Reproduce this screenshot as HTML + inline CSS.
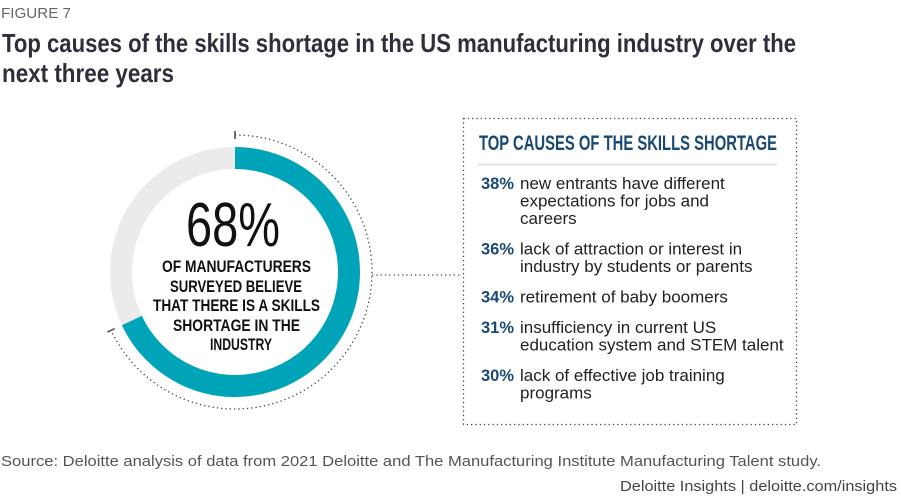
<!DOCTYPE html>
<html><head><meta charset="utf-8">
<style>
html,body{margin:0;padding:0;background:#fff;}
svg{display:block;}
.n{font-family:"Liberation Sans Narrow","Liberation Sans",sans-serif;}
.s{font-family:"Liberation Sans",sans-serif;}
</style></head>
<body>
<svg id="chart" width="901" height="501" viewBox="0 0 901 501" xmlns="http://www.w3.org/2000/svg">
<text class="s" x="1" y="18" font-size="15" fill="#666" textLength="70" lengthAdjust="spacingAndGlyphs">FIGURE 7</text>
<text class="n" x="2" y="52" font-size="26" font-weight="bold" fill="#2e2f3b" textLength="794" lengthAdjust="spacingAndGlyphs">Top causes of the skills shortage in the US manufacturing industry over the</text>
<text class="n" x="2" y="82" font-size="26" font-weight="bold" fill="#2e2f3b" textLength="172" lengthAdjust="spacingAndGlyphs">next three years</text>

<g id="donut"></g>

<text class="n" x="186" y="246" font-size="62" fill="#111" textLength="94" lengthAdjust="spacingAndGlyphs">68%</text>
<g class="n" font-size="17" font-weight="bold" fill="#111">
<text x="162" y="272" textLength="149" lengthAdjust="spacingAndGlyphs">OF MANUFACTURERS</text>
<text x="170" y="292" textLength="132" lengthAdjust="spacingAndGlyphs">SURVEYED BELIEVE</text>
<text x="153" y="311" textLength="167" lengthAdjust="spacingAndGlyphs">THAT THERE IS A SKILLS</text>
<text x="173" y="331" textLength="127" lengthAdjust="spacingAndGlyphs">SHORTAGE IN THE</text>
<text x="210" y="350" textLength="62" lengthAdjust="spacingAndGlyphs">INDUSTRY</text>
</g>

<line x1="372" y1="275" x2="462" y2="275" stroke="#444" stroke-width="1.3" stroke-dasharray="1.3 3"/>
<rect x="463.5" y="118.5" width="333" height="306" fill="none" stroke="#444" stroke-width="1.3" stroke-dasharray="1.3 3"/>
<text class="n" x="479" y="150" font-size="21" font-weight="bold" fill="#1a4a74" textLength="298" lengthAdjust="spacingAndGlyphs">TOP CAUSES OF THE SKILLS SHORTAGE</text>
<line x1="478" y1="164.5" x2="777" y2="164.5" stroke="#ddd" stroke-width="1.5"/>
<g id="causes"></g>

<text class="s" x="1" y="466" font-size="15" fill="#555" textLength="820" lengthAdjust="spacingAndGlyphs">Source: Deloitte analysis of data from 2021 Deloitte and The Manufacturing Institute Manufacturing Talent study.</text>
<text class="s" x="620" y="491" font-size="15" fill="#444" textLength="277" lengthAdjust="spacingAndGlyphs">Deloitte Insights | deloitte.com/insights</text>
</svg>
<script>
const donutValue = 68;
const causePercents = ["38%","36%","34%","31%","30%"];
const causeLines = [
  ["new entrants have different","expectations for jobs and","careers"],
  ["lack of attraction or interest in","industry by students or parents"],
  ["retirement of baby boomers"],
  ["insufficiency in current US","education system and STEM talent"],
  ["lack of effective job training","programs"]
];
const NS="http://www.w3.org/2000/svg";
const cx=235, cy=272, r=114, rd=137;
function pt(frac,rad){const a=frac*2*Math.PI;return [cx+rad*Math.sin(a), cy-rad*Math.cos(a)];}
function arc(f0,f1,rad){const p0=pt(f0,rad),p1=pt(f1,rad);const large=(f1-f0)>0.5?1:0;return `M${p0[0]},${p0[1]} A${rad},${rad} 0 ${large} 1 ${p1[0]},${p1[1]}`;}
const g=document.getElementById('donut');
const frac=donutValue/100;
const bg=document.createElementNS(NS,'circle');
bg.setAttribute('cx',cx);bg.setAttribute('cy',cy);bg.setAttribute('r',r);
bg.setAttribute('fill','none');bg.setAttribute('stroke','#ebebeb');bg.setAttribute('stroke-width','22');


g.appendChild(bg);
const fg=document.createElementNS(NS,'path');
fg.setAttribute('d',arc(0,frac,r));fg.setAttribute('fill','none');fg.setAttribute('stroke','#00a4b8');fg.setAttribute('stroke-width','22');


g.appendChild(fg);
const dot=document.createElementNS(NS,'path');
dot.setAttribute('d',arc(0,frac,rd));dot.setAttribute('fill','none');dot.setAttribute('stroke','#444');dot.setAttribute('stroke-width','1.3');dot.setAttribute('stroke-dasharray','1.3 3');


g.appendChild(dot);
[0,frac].forEach(f=>{const a=pt(f,rd-4),b=pt(f,rd+4);const l=document.createElementNS(NS,'line');
l.setAttribute('x1',a[0]);l.setAttribute('y1',a[1]);l.setAttribute('x2',b[0]);l.setAttribute('y2',b[1]);l.setAttribute('stroke','#444');l.setAttribute('stroke-width','1.5');


g.appendChild(l);});
const cg=document.getElementById('causes');
let y=189;
causePercents.forEach((p,i)=>{
  const t=document.createElementNS(NS,'text');
  t.setAttribute('x',481);t.setAttribute('y',y);t.setAttribute('class','s');t.setAttribute('font-size','16.5');t.setAttribute('font-weight','bold');t.setAttribute('fill','#1a4a74');
  t.textContent=p;
  
  
  cg.appendChild(t);
  causeLines[i].forEach((ln,j)=>{
    const d=document.createElementNS(NS,'text');
    d.setAttribute('x',520);d.setAttribute('y',y+j*17.5);d.setAttribute('class','s');d.setAttribute('font-size','17');d.setAttribute('fill','#222');
    d.textContent=ln;
    
    
    cg.appendChild(d);
  });
  y+=(causeLines[i].length-1)*17.5+30.5;
});
</script>
</body></html>
